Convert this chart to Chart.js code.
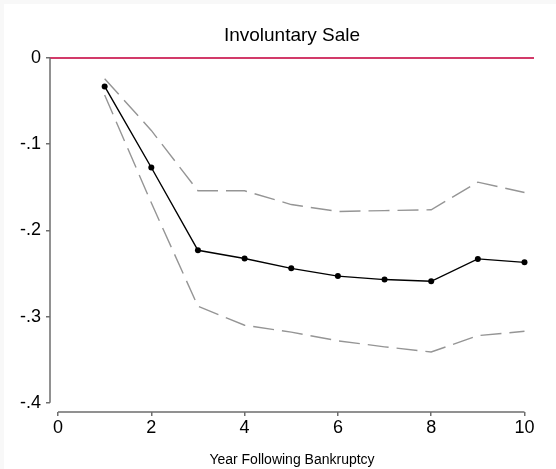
<!DOCTYPE html>
<html lang="en">
<head>
    <meta charset="UTF-8">
    <title>Involuntary Sale</title>
    <style>
        html, body {
            margin: 0;
            padding: 0;
            background: #f8f8f8;
        }
        #chart-container {
            position: absolute;
            left: 4px;
            top: 4px;
            width: 552px;
            height: 465px;
            background: #ffffff;
        }
    </style>
    <script src="https://cdn.jsdelivr.net/npm/chart.js"></script>
</head>
<body>
    <div id="chart-container">
        <canvas id="saleChart" width="552" height="465"></canvas>
    </div>
    <script>
        // values
        const years = [1, 2, 3, 4, 5, 6, 7, 8, 9, 10];
        const estimate = [-0.033, -0.127, -0.223, -0.2325, -0.244, -0.253, -0.257, -0.259, -0.233, -0.237];
        const upperCI = [-0.024, -0.084, -0.154, -0.154, -0.17, -0.178, -0.177, -0.176, -0.144, -0.156];
        const lowerCI = [-0.043, -0.168, -0.288, -0.310, -0.318, -0.328, -0.335, -0.341, -0.322, -0.317];
        const xTicks = [0, 2, 4, 6, 8, 10];
        const yTicks = [0, -0.1, -0.2, -0.3, -0.4];

        const font = "'Liberation Sans', Arial, sans-serif";
        const axisColor = '#6e6e6e';

        const toPoints = vals => years.map((x, i) => ({ x: x, y: vals[i] }));

        // zero reference line and the detached Stata-style axis lines
        const axesPlugin = {
            id: 'axesPlugin',
            beforeDatasetsDraw(chart) {
                const { ctx, chartArea, scales } = chart;
                const y0 = scales.y.getPixelForValue(0);
                ctx.save();
                ctx.strokeStyle = '#d23a69';
                ctx.lineWidth = 2;
                ctx.beginPath();
                ctx.moveTo(chartArea.left, y0);
                ctx.lineTo(chartArea.right, y0);
                ctx.stroke();

                ctx.strokeStyle = axisColor;
                ctx.lineWidth = 1.5;
                ctx.beginPath();
                ctx.moveTo(chartArea.left, scales.y.getPixelForValue(yTicks[0]));
                ctx.lineTo(chartArea.left, scales.y.getPixelForValue(yTicks[yTicks.length - 1]));
                ctx.moveTo(scales.x.getPixelForValue(xTicks[0]), chartArea.bottom);
                ctx.lineTo(scales.x.getPixelForValue(xTicks[xTicks.length - 1]), chartArea.bottom);
                ctx.stroke();
                ctx.restore();
            }
        };

        const ctx = document.getElementById('saleChart').getContext('2d');
        new Chart(ctx, {
            type: 'line',
            data: {
                datasets: [{
                    label: 'Upper',
                    data: toPoints(upperCI),
                    borderColor: '#959595',
                    borderWidth: 1.4,
                    borderDash: [21, 8],
                    pointRadius: 0,
                    fill: false,
                    tension: 0
                }, {
                    label: 'Lower',
                    data: toPoints(lowerCI),
                    borderColor: '#959595',
                    borderWidth: 1.4,
                    borderDash: [21, 8],
                    pointRadius: 0,
                    fill: false,
                    tension: 0
                }, {
                    label: 'Estimate',
                    data: toPoints(estimate),
                    borderColor: '#000000',
                    backgroundColor: '#000000',
                    borderWidth: 1.4,
                    pointRadius: 3,
                    pointBackgroundColor: '#000000',
                    pointBorderWidth: 0,
                    fill: false,
                    tension: 0
                }]
            },
            options: {
                responsive: false,
                animation: false,
                clip: false,
                layout: {
                    padding: { left: 0, right: 22, top: 0, bottom: 0 }
                },
                plugins: {
                    legend: { display: false },
                    tooltip: { enabled: false },
                    title: {
                        display: true,
                        text: 'Involuntary Sale',
                        fullSize: false,
                        color: '#000000',
                        font: { family: font, size: 19, weight: 'normal' },
                        padding: { top: 20, bottom: 11.2 }
                    }
                },
                scales: {
                    x: {
                        type: 'linear',
                        min: -0.1715,
                        max: 10.204,
                        afterBuildTicks: scale => {
                            scale.ticks = xTicks.map(v => ({ value: v }));
                        },
                        afterFit: scale => { scale.height = 57; },
                        border: { display: false },
                        grid: {
                            drawOnChartArea: false,
                            drawTicks: true,
                            tickLength: 4,
                            color: axisColor,
                            lineWidth: 1.5
                        },
                        ticks: {
                            color: '#000000',
                            padding: 1,
                            maxRotation: 0,
                            font: { family: font, size: 18 },
                            callback: v => String(v)
                        },
                        title: {
                            display: true,
                            text: 'Year Following Bankruptcy',
                            color: '#000000',
                            font: { family: font, size: 14 },
                            padding: { top: 0, bottom: 0 }
                        }
                    },
                    y: {
                        type: 'linear',
                        min: -0.4106,
                        max: 0,
                        afterBuildTicks: scale => {
                            scale.ticks = yTicks.map(v => ({ value: v }));
                        },
                        afterFit: scale => { scale.width = 46; },
                        border: { display: false },
                        grid: {
                            drawOnChartArea: false,
                            drawTicks: true,
                            tickLength: 4,
                            color: axisColor,
                            lineWidth: 1.5
                        },
                        ticks: {
                            color: '#000000',
                            padding: 5,
                            font: { family: font, size: 18 },
                            callback: v => v === 0 ? '0' : '-' + Math.abs(v).toFixed(1).replace(/^0/, '')
                        }
                    }
                }
            },
            plugins: [axesPlugin]
        });
    </script>
</body>
</html>
